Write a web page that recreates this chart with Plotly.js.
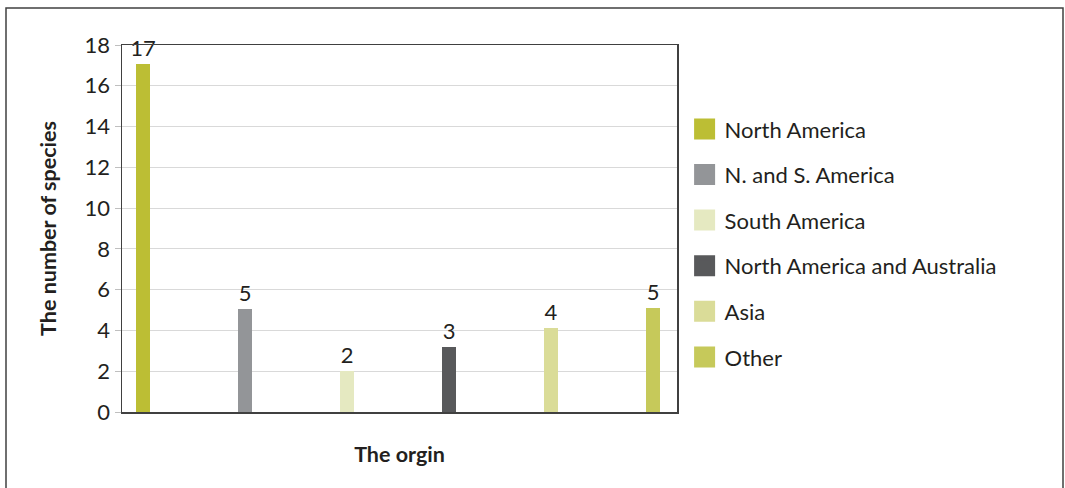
<!DOCTYPE html>
<html><head><meta charset="utf-8">
<script src="https://cdn.plot.ly/plotly-3.0.1.min.js"></script>
<style>html,body{margin:0;padding:0;background:#fff}#chart{width:1065px;height:488px}</style>
</head><body><div id="chart"></div>
<script>
const categories = ["North America", "N. and S. America", "South America", "North America and Australia", "Asia", "Other"];
const values = [17.05, 5.05, 2, 3.2, 4.1, 5.1];
const labels = ["17", "5", "2", "3", "4", "5"];
const colors = ["#bcbe34", "#939598", "#e5e9c1", "#58595b", "#dadc98", "#c6c95a"];
const yTicks = [0, 2, 4, 6, 8, 10, 12, 14, 16, 18];

const FONT = "Lato, 'Open Sans', sans-serif";
const TXT = "#231f20";
const traces = [];
categories.forEach((c, i) => {
  traces.push({
    type: "bar", x: [i], y: [values[i]], name: c, showlegend: false,
    width: 0.14, marker: {color: colors[i]},
    text: [labels[i]], textposition: "outside", constraintext: "none", cliponaxis: false,
    textfont: {family: FONT, size: 22, color: TXT}, hoverinfo: "none"
  });
});
categories.forEach((c, i) => {
  traces.push({
    type: "scatter", mode: "markers", x: [null], y: [null], name: c, legendgroup: "g" + i,
    marker: {symbol: "square", size: 16, color: colors[i], line: {color: colors[i], width: 5}},
    hoverinfo: "none"
  });
});

const L = 122, R = 677, T = 45, B = 412, W = 1065, H = 488;
const pw = R - L, ph = B - T;
const layout = {
  width: W, height: H,
  margin: {l: L, r: W - R, t: T, b: H - B, pad: 0},
  paper_bgcolor: "#fff", plot_bgcolor: "#fff",
  font: {family: FONT, color: TXT},
  bargap: 0,
  showlegend: true,
  legend: {x: 1.0137, y: 0.828, xanchor: "left", yanchor: "top", font: {family: FONT, size: 22, color: TXT},
           tracegroupgap: 14, traceorder: "grouped", bgcolor: "rgba(0,0,0,0)"},
  xaxis: {range: [-0.206, 5.235], showticklabels: false, showgrid: false, zeroline: false,
          showline: true, linecolor: "#404040", linewidth: 1.5, mirror: true, ticks: "",
          title: {text: "<b>The orgin</b>", font: {family: FONT, size: 21.5, color: TXT}, standoff: 34}},
  yaxis: {range: [0, 18], tickvals: yTicks, ticktext: yTicks.map(String), showgrid: true, gridcolor: "#d9d9d9",
          gridwidth: 1.2, zeroline: false, showline: true, linecolor: "#404040", linewidth: 1.5, mirror: true,
          ticks: "outside", ticklen: 6, tickcolor: "#bfbfbf", tickfont: {family: FONT, size: 22, color: TXT},
          title: {text: "<b>The number of species</b>", font: {family: FONT, size: 21.5, color: TXT}, standoff: 22}},
  shapes: [{type: "rect", xref: "paper", yref: "paper",
            x0: (6 - L) / pw, x1: (1063 - L) / pw, y0: (B - 500) / ph, y1: (B - 8) / ph,
            line: {color: "#404040", width: 1.5}, fillcolor: "rgba(0,0,0,0)", layer: "below"}]
};
Plotly.newPlot("chart", traces, layout, {staticPlot: true, displayModeBar: false});
</script></body></html>
